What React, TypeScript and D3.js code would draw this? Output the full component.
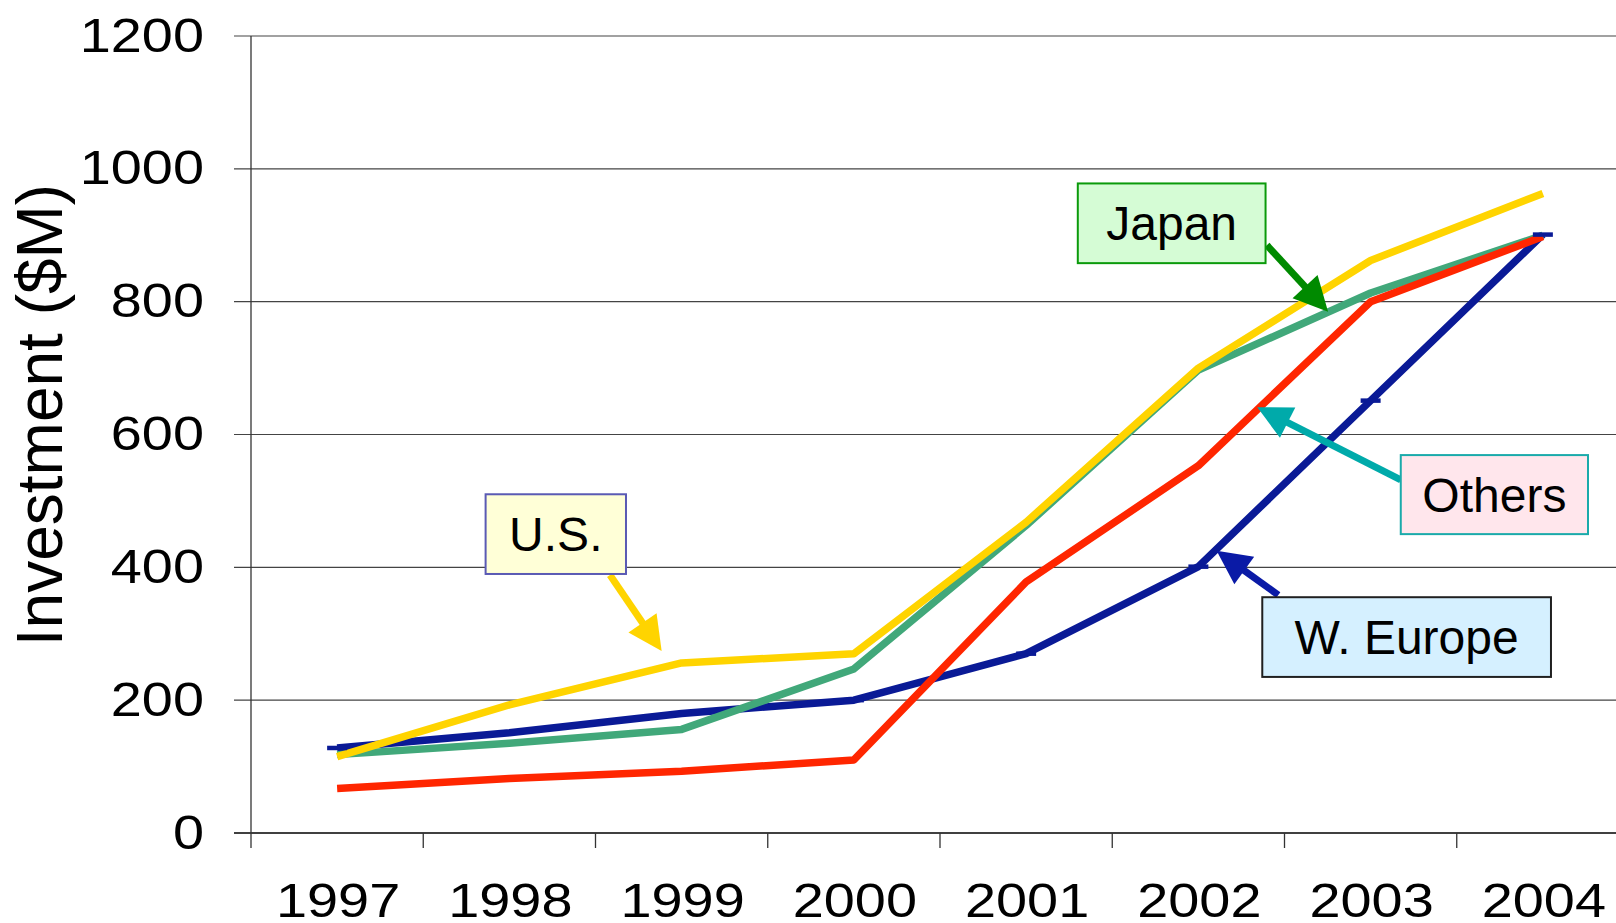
import React from "react";
import * as d3 from "d3";

const years = ["1997", "1998", "1999", "2000", "2001", "2002", "2003", "2004"];
const yTicks = [0, 200, 400, 600, 800, 1000, 1200];

const wEurope = [128, 151, 180, 200, 270, 401, 651, 901];
const japan = [118, 135, 156, 247, 463, 697, 813, 900];
const others = [67, 82, 93, 110, 378, 553, 800, 898];
const us = [115, 193, 256, 270, 468, 700, 862, 963];

const seriesNames = ["W. Europe", "Japan", "Others", "U.S."];
const seriesValues = [wEurope, japan, others, us];
const seriesColors = ["#0A1A96", "#41A87A", "#FF2600", "#FFD400"];

// annotation anchors in data space: x in category units (0 = left edge of 1997), y in $M
const annoLabels = ["Japan", "Others", "W. Europe", "U.S."];
const annoBoxX = [[4.8, 5.89], [6.675, 7.762], [5.871, 7.547], [1.362, 2.177]];
const annoBoxY = [[978, 858], [569, 450], [355, 235], [510, 390]];
const annoFrom = [[5.898, 885], [6.675, 531.5], [5.964, 358.3], [2.084, 388.4]];
const annoTip = [[6.253, 785], [5.842, 641], [5.606, 425], [2.384, 274]];
const annoFill = ["#D5FCD5", "#FFE6EC", "#D5F0FF", "#FFFFD7"];
const annoStroke = ["#0A9A0A", "#1AAAAA", "#202020", "#5A5AB4"];
const annoArrow = ["#008A00", "#00AAAA", "#0A1AA6", "#FFD400"];

const W = 1616;
const H = 923;
const FONT = "'Liberation Sans', Arial, Helvetica, sans-serif";
const TICK_FS = 49;
const TICK_SX = 1.14;

export default function App() {
  React.useEffect(() => {
    document.body.style.margin = "0";
  }, []);

  const x = d3.scaleBand<string>().domain(years).range([251, 1629]).paddingInner(0).paddingOuter(0);
  const xl = d3.scaleLinear().domain([0, years.length]).range([251, 1629]);
  const y = d3.scaleLinear().domain([0, 1200]).range([833, 36]);
  const bw = x.bandwidth();
  const cx = (i: number) => (x(years[i]) as number) + bw / 2;

  const line = d3
    .line<number>()
    .x((_, i) => cx(i))
    .y((d) => y(d));

  const axisLeft = 251;
  const xAxisY = y(0);

  const arrow = (k: number) => {
    const x0 = xl(annoFrom[k][0]);
    const y0 = y(annoFrom[k][1]);
    const x1 = xl(annoTip[k][0]);
    const y1 = y(annoTip[k][1]);
    const dx = x1 - x0;
    const dy = y1 - y0;
    const len = Math.sqrt(dx * dx + dy * dy);
    const ux = dx / len;
    const uy = dy / len;
    const headLen = 34;
    const headHalf = 17;
    const bx = x1 - ux * headLen;
    const by = y1 - uy * headLen;
    const px = -uy;
    const py = ux;
    const pts = [
      [x1, y1],
      [bx + px * headHalf, by + py * headHalf],
      [bx - px * headHalf, by - py * headHalf],
    ];
    return (
      <g key={"arr" + k}>
        <line x1={x0} y1={y0} x2={bx + ux * 2} y2={by + uy * 2} stroke={annoArrow[k]} strokeWidth={7} />
        <polygon points={pts.map((p) => p.join(",")).join(" ")} fill={annoArrow[k]} />
      </g>
    );
  };

  return (
    <svg
      width={W}
      height={H}
      viewBox={`0 0 ${W} ${H}`}
      style={{ position: "absolute", left: 0, top: 0, display: "block", background: "#fff" }}
      fontFamily={FONT}
    >
      <rect x={0} y={0} width={W} height={H} fill="#fff" />
      {/* gridlines + y ticks */}
      {yTicks.map((t) => (
        <g key={"g" + t}>
          <line x1={234} x2={W} y1={y(t)} y2={y(t)} stroke={t === 0 ? "#000" : "#444"} strokeWidth={t === 0 ? 1.5 : 1.2} />
          <text
            transform={`translate(204,${y(t) + 15.5}) scale(${TICK_SX},1)`}
            textAnchor="end"
            fontSize={TICK_FS}
            fill="#000"
          >
            {t}
          </text>
        </g>
      ))}
      {/* y axis */}
      <line x1={axisLeft} x2={axisLeft} y1={y(1200)} y2={xAxisY + 15} stroke="#333" strokeWidth={1.3} />
      {/* x ticks */}
      {years.map((yr) => (
        <line key={"t" + yr} x1={(x(yr) as number) + bw} x2={(x(yr) as number) + bw} y1={xAxisY} y2={xAxisY + 15} stroke="#333" strokeWidth={1.3} />
      ))}
      {years.map((yr, i) => (
        <text
          key={"l" + yr}
          transform={`translate(${cx(i) + 1},917) scale(${TICK_SX},1)`}
          textAnchor="middle"
          fontSize={TICK_FS}
          fill="#000"
        >
          {yr}
        </text>
      ))}
      {/* y title */}
      <text transform={`translate(62,415) rotate(-90)`} textAnchor="middle" fontSize={64} fill="#000">
        Investment ($M)
      </text>

      {/* series */}
      {seriesValues.map((vals, s) => (
        <path
          key={seriesNames[s]}
          d={line(vals) || ""}
          fill="none"
          stroke={seriesColors[s]}
          strokeWidth={7.5}
          strokeLinejoin="round"
          strokeLinecap="butt"
        />
      ))}
      {/* dash markers for W. Europe */}
      {wEurope.map((v, i) => (
        <line key={"m" + i} x1={cx(i) - 10} x2={cx(i) + 10} y1={y(v)} y2={y(v)} stroke={seriesColors[0]} strokeWidth={4.5} />
      ))}

      {/* annotations */}
      {annoLabels.map((lab, k) => arrow(k))}
      {annoLabels.map((lab, k) => {
        const bx0 = xl(annoBoxX[k][0]);
        const bx1 = xl(annoBoxX[k][1]);
        const by0 = y(annoBoxY[k][0]);
        const by1 = y(annoBoxY[k][1]);
        return (
          <g key={"box" + k}>
            <rect x={bx0} y={by0} width={bx1 - bx0} height={by1 - by0} fill={annoFill[k]} stroke={annoStroke[k]} strokeWidth={2} />
            <text x={(bx0 + bx1) / 2} y={(by0 + by1) / 2} dy="0.355em" textAnchor="middle" fontSize={48} fill="#000">
              {lab}
            </text>
          </g>
        );
      })}
    </svg>
  );
}
